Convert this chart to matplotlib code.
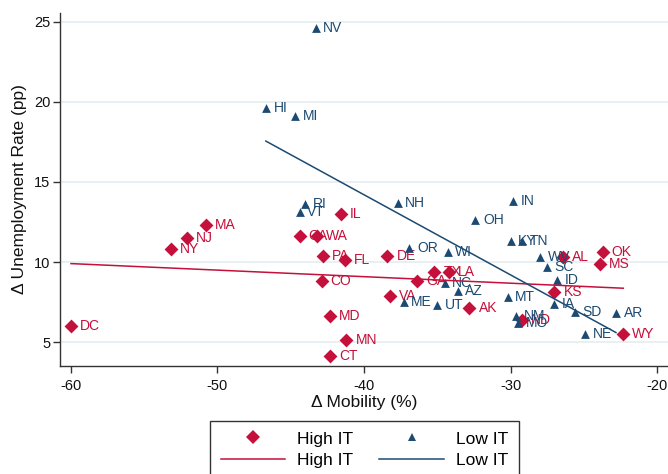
import numpy as np
import matplotlib
matplotlib.use("Agg")
import matplotlib.pyplot as plt
from matplotlib.lines import Line2D

plt.rcParams.update({
    "font.family": ["Liberation Sans", "DejaVu Sans"],
    "axes.spines.top": False,
    "axes.spines.right": False,
    "axes.unicode_minus": False,
})

# ---------------- data ----------------
high_states = ["DC", "NY", "NJ", "MA", "CT", "MN", "MD", "CO", "PA", "FL",
               "IL", "CA", "WA", "DE", "VA", "GA", "TX", "LA", "AK", "ND",
               "KS", "AL", "OK", "MS", "WY"]
high_mob = [-60.0, -53.2, -52.1, -50.8, -42.3, -41.2, -42.3, -42.9, -42.8, -41.3,
            -41.6, -44.4, -43.2, -38.4, -38.2, -36.4, -35.2, -34.2, -32.8, -29.2,
            -27.0, -26.4, -23.7, -23.9, -22.3]
high_unemp = [6.0, 10.8, 11.5, 12.3, 4.1, 5.1, 6.6, 8.8, 10.4, 10.1,
              13.0, 11.6, 11.6, 10.4, 7.9, 8.8, 9.4, 9.4, 7.1, 6.4,
              8.1, 10.3, 10.6, 9.9, 5.5]

low_states = ["NV", "HI", "MI", "RI", "VT", "NH", "IN", "OH", "OR", "WI",
              "KY", "TN", "WV", "SC", "ID", "NC", "AZ", "ME", "UT", "MT",
              "IA", "SD", "AR", "NE", "NM", "MO"]
low_mob = [-43.3, -46.7, -44.7, -44.0, -44.4, -37.7, -29.8, -32.4, -36.9, -34.3,
           -30.0, -29.2, -28.0, -27.5, -26.8, -34.5, -33.6, -37.3, -35.0, -30.2,
           -27.0, -25.6, -22.8, -24.9, -29.6, -29.5]
low_unemp = [24.6, 19.6, 19.1, 13.6, 13.1, 13.7, 13.8, 12.6, 10.9, 10.6,
             11.3, 11.3, 10.3, 9.7, 8.9, 8.7, 8.2, 7.5, 7.3, 7.8,
             7.4, 6.9, 6.8, 5.5, 6.6, 6.2]

RED = "#C4103A"
BLUE = "#1B4A72"

fig = plt.figure(figsize=(6.68, 4.74), dpi=100)
ax = fig.add_axes([0.0898, 0.2278, 0.9102, 0.7448])

ax.grid(True, axis="y", color="#E4EDF1", linewidth=1.2, zorder=0)
ax.set_axisbelow(True)


def fit_line(x, y):
    x = np.asarray(x)
    b, a = np.polyfit(x, np.asarray(y), 1)
    xs = np.array([x.min(), x.max()])
    return xs, a + b * xs


# high IT
ax.scatter(high_mob, high_unemp, marker="D", s=50, color=RED, linewidths=0, zorder=3)
for s, x, y in zip(high_states, high_mob, high_unemp):
    ax.annotate(s, (x, y), xytext=(6.5, 0), textcoords="offset points",
                ha="left", va="center", fontsize=10, color=RED, zorder=3)

# low IT
ax.scatter(low_mob, low_unemp, marker="^", s=40, color=BLUE, linewidths=0, zorder=4)
for s, x, y in zip(low_states, low_mob, low_unemp):
    ax.annotate(s, (x, y), xytext=(5.5, 0), textcoords="offset points",
                ha="left", va="center", fontsize=10, color=BLUE, zorder=4)

xs, ys = fit_line(high_mob, high_unemp)
ax.plot(xs, ys, color=RED, linewidth=1.1, zorder=5)
xs, ys = fit_line(low_mob, low_unemp)
ax.plot(xs, ys, color=BLUE, linewidth=1.1, zorder=5)

ax.set_xlim(-60.75, -19.25)
ax.set_ylim(3.5, 25.56)
ax.set_xticks([-60, -50, -40, -30, -20])
ax.set_yticks([5, 10, 15, 20, 25])
ax.tick_params(axis="both", direction="out", length=5, width=1, color="#333333",
               labelsize=10.5, labelcolor="#111111")
ax.tick_params(axis="x", pad=4)
ax.tick_params(axis="y", pad=2)
for sp in ("left", "bottom"):
    ax.spines[sp].set_color("#333333")
    ax.spines[sp].set_linewidth(1)

ax.set_xlabel("Δ Mobility (%)", fontsize=12.5, color="#111111")
ax.set_ylabel("Δ Unemployment Rate (pp)", fontsize=12.5, color="#111111")
ax.xaxis.set_label_coords(0.5, -0.082)
ax.yaxis.set_label_coords(-0.054, 0.5)

handles = [
    Line2D([], [], marker="D", color=RED, linestyle="none", markersize=7, markeredgewidth=0),
    Line2D([], [], color=RED, linewidth=1.1),
    Line2D([], [], marker="^", color=BLUE, linestyle="none", markersize=5.5, markeredgewidth=0),
    Line2D([], [], color=BLUE, linewidth=1.1),
]
labels = ["High IT", "High IT", "Low IT", "Low IT"]
leg = fig.legend(handles, labels, ncol=2, loc="upper center",
                 bbox_to_anchor=(364.5 / 668, 1 - 421 / 474),
                 fontsize=12.5, frameon=True, fancybox=False, framealpha=1,
                 edgecolor="#333333", handlelength=3.7, handletextpad=0.7,
                 columnspacing=1.5, labelspacing=0.35, borderpad=0.6,
                 borderaxespad=0)
leg.get_frame().set_linewidth(1)

fig.savefig("out.png", dpi=100)
